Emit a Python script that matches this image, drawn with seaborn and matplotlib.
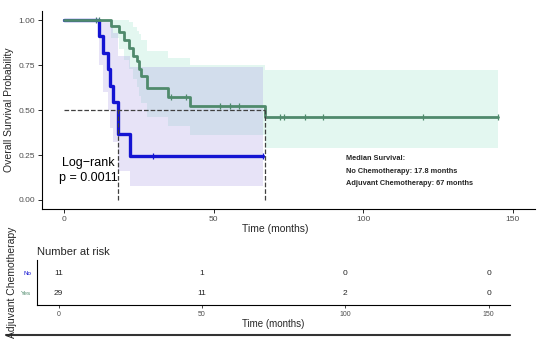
import numpy as np
import matplotlib
matplotlib.use("Agg")
import matplotlib.pyplot as plt
import seaborn as sns

# Kaplan-Meier steps (months, survival)
no_t = [0, 11.7, 12.9, 14.5, 15.1, 16.1, 17.8, 21.8, 66.5]
no_s = [1.0, 0.909, 0.818, 0.727, 0.636, 0.545, 0.364, 0.242, 0.242]
no_lo = [1.0, 0.75, 0.60, 0.50, 0.40, 0.32, 0.16, 0.08, 0.08]
no_hi = [1.0, 1.0, 1.0, 1.0, 1.0, 0.93, 0.80, 0.74, 0.74]
no_cens = [29.5, 66.5]

yes_t = [0, 15.7, 18.1, 20.1, 21.6, 23.0, 24.2, 24.8, 25.5, 27.8, 34.6, 42.0, 67.0, 145.0]
yes_s = [1.0, 0.966, 0.931, 0.889, 0.847, 0.80, 0.77, 0.73, 0.69, 0.62, 0.57, 0.525, 0.46, 0.46]
yes_lo = [1.0, 0.90, 0.84, 0.78, 0.73, 0.67, 0.63, 0.58, 0.54, 0.46, 0.41, 0.36, 0.29, 0.29]
yes_hi = [1.0, 1.0, 1.0, 1.0, 0.99, 0.96, 0.94, 0.92, 0.89, 0.83, 0.79, 0.75, 0.72, 0.72]
yes_cens = [10.7, 11.7, 35.8, 40.8, 52.0, 55.4, 58.4, 72.0, 73.5, 80.5, 86.6, 120.0, 145.0]

medians = [17.8, 67.0]

risk_times = [0, 50, 100, 150]
risk_no = [11, 1, 0, 0]
risk_yes = [29, 11, 2, 0]

blue = "#1414d2"
green = "#4f8a6c"
grey = "#4d4d4d"

sns.set_theme(style="ticks")
plt.rcParams["font.family"] = ["Liberation Sans", "DejaVu Sans"]

fig = plt.figure(figsize=(5.5, 3.42), dpi=100)
ax = fig.add_axes([0.0764, 0.3889, 0.8964, 0.5789])

# confidence bands
ax.fill_between(yes_t, yes_lo, yes_hi, step="post", color="#73d7b4", alpha=0.2, lw=0)
ax.fill_between(no_t, no_lo, no_hi, step="post", color="#a393e3", alpha=0.25, lw=0)

sns.lineplot(x=no_t, y=no_s, drawstyle="steps-post", estimator=None,
             color=blue, lw=2.4, ax=ax)
sns.lineplot(x=yes_t, y=yes_s, drawstyle="steps-post", estimator=None,
             color=green, lw=2.0, ax=ax)

# censor marks
def at(ts, ss, c):
    return [ss[np.searchsorted(ts, x, side="right") - 1] for x in c]

sns.scatterplot(x=no_cens, y=at(no_t, no_s, no_cens), marker="|", s=20,
                color=blue, linewidth=0.9, ax=ax)
sns.scatterplot(x=yes_cens, y=at(yes_t, yes_s, yes_cens), marker="|", s=20,
                color=green, linewidth=0.9, ax=ax)

# median lines
ax.plot([0, max(medians)], [0.5, 0.5], ls="--", color="#404040", lw=0.9)
for m in medians:
    ax.plot([m, m], [0, 0.5], ls="--", color="#404040", lw=0.9)

ax.text(8, 0.165, "Log\u2212rank\np = 0.0011", ha="center", va="center",
        fontsize=9, linespacing=1.3, color="black")
ax.text(94.2, 0.228, "Median Survival:", fontsize=5.3, fontweight="bold", va="center")
ax.text(94.2, 0.161, "No Chemotherapy: 17.8 months", fontsize=5.3, fontweight="bold", va="center")
ax.text(94.2, 0.094, "Adjuvant Chemotherapy: 67 months", fontsize=5.3, fontweight="bold", va="center")

ax.set_xlim(-7.5, 157.5)
ax.set_ylim(-0.05, 1.05)
ax.set_xticks(risk_times)
ax.set_yticks([0, 0.25, 0.5, 0.75, 1.0])
ax.set_yticklabels(["0.00", "0.25", "0.50", "0.75", "1.00"])
ax.tick_params(labelsize=6, labelcolor=grey, length=3, width=0.7, pad=2)
ax.set_xlabel("Time (months)", fontsize=7.5, labelpad=2)
ax.set_ylabel("Overall Survival Probability", fontsize=7.5, labelpad=3)
ax.xaxis.set_label_coords(0.473, -0.075)
sns.despine(ax=ax)
for sp in ax.spines.values():
    sp.set_linewidth(0.8)
    sp.set_color("black")

# risk table
ax2 = fig.add_axes([0.0673, 0.108, 0.86, 0.1316])
for x, n in zip(risk_times, risk_no):
    ax2.text(x, 1, str(n), ha="center", va="center", fontsize=6)
for x, n in zip(risk_times, risk_yes):
    ax2.text(x, 0, str(n), ha="center", va="center", fontsize=6)
ax2.set_xlim(-7.5, 157.5)
ax2.set_ylim(-0.6, 1.65)
ax2.set_xticks(risk_times)
ax2.set_yticks([1, 0])
ax2.set_yticklabels(["No", "Yes"], fontsize=4.5)
ax2.get_yticklabels()[0].set_color(blue)
ax2.get_yticklabels()[1].set_color(green)
ax2.tick_params(axis="x", labelsize=5, labelcolor=grey, length=2, width=0.6, pad=2)
ax2.tick_params(axis="y", length=0, pad=4)
ax2.set_xlabel("Time (months)", fontsize=7, labelpad=1)
ax2.set_title("Number at risk", loc="left", fontsize=8, pad=4)
sns.despine(ax=ax2)
for sp in ax2.spines.values():
    sp.set_linewidth(0.8)
    sp.set_color("black")

fig.text(0.022, 0.175, "Adjuvant Chemotherapy", rotation=90, fontsize=7.5,
         ha="center", va="center")
fig.add_artist(plt.Line2D([0.01, 0.927], [0.02, 0.02], color="#333333", lw=1.5))

fig.savefig("out.png", dpi=100)
